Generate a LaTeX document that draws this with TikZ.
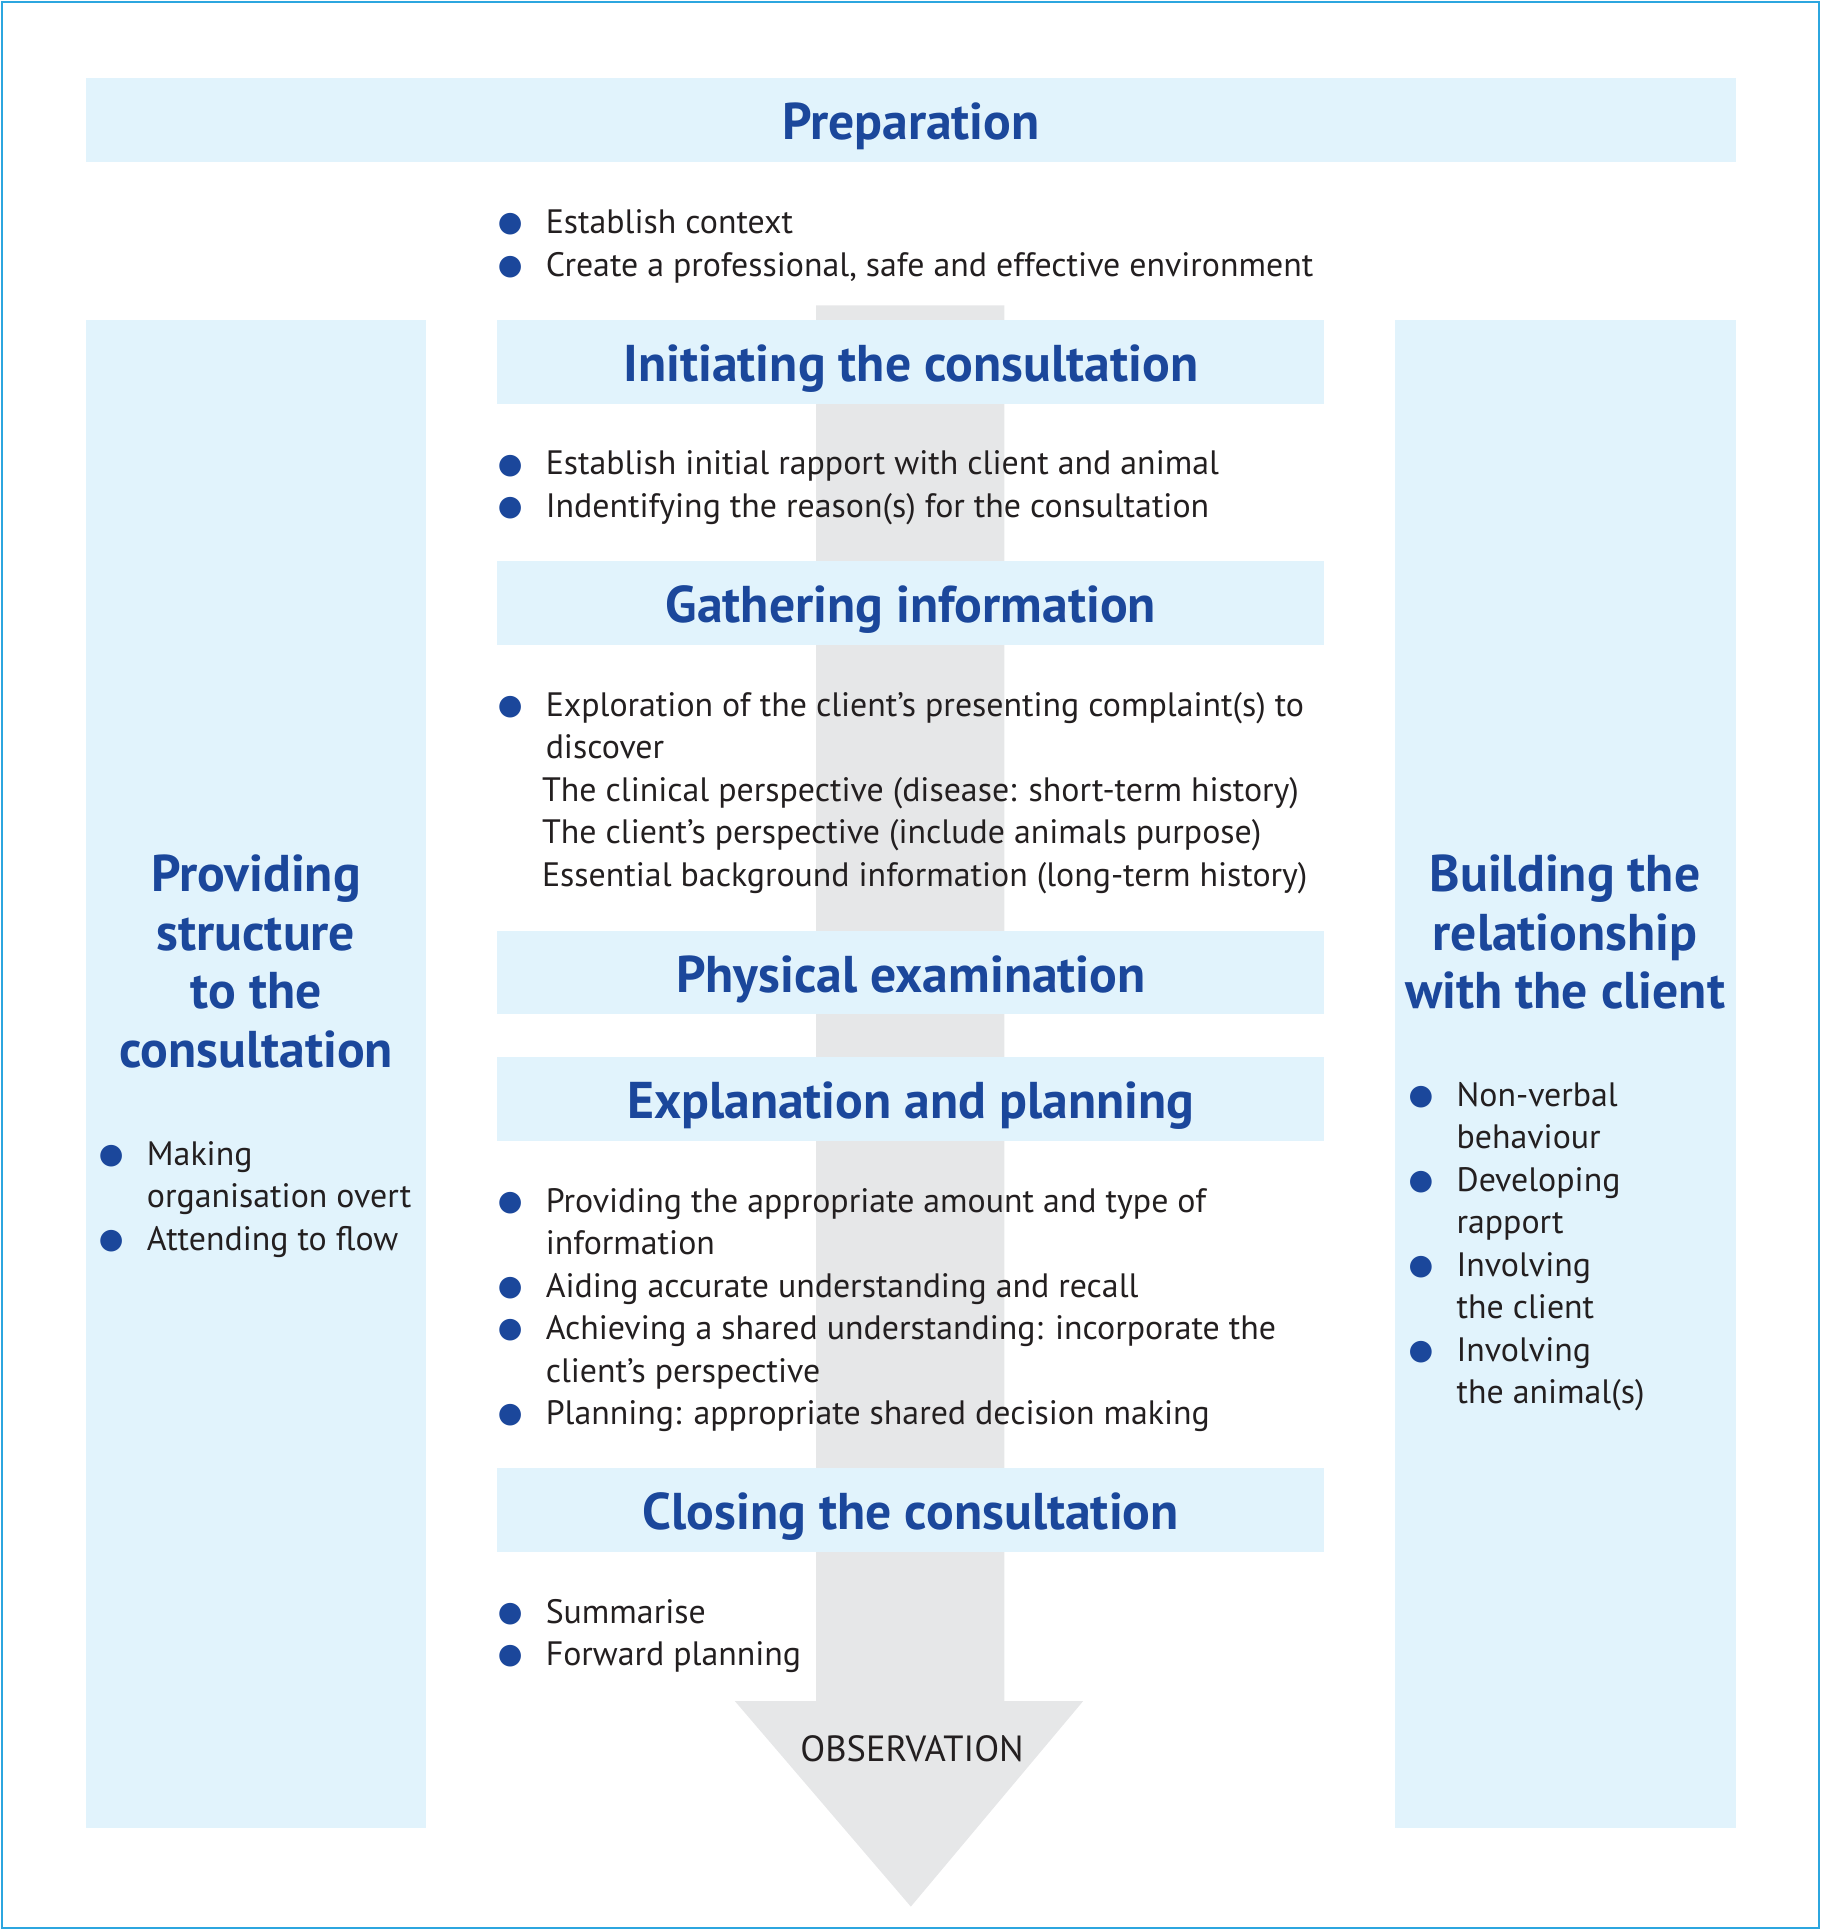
\documentclass[tikz,border=0pt]{standalone}
\usepackage{fontspec}
\setmainfont{PT Sans}
\newfontfamily\dotfont{DejaVu Sans}
\definecolor{paleblue}{HTML}{E1F3FC}
\definecolor{titleblue}{HTML}{1B479B}
\definecolor{arrowgray}{HTML}{E6E7E8}
\definecolor{framecyan}{HTML}{2CA6DF}
\definecolor{inkgray}{HTML}{231F20}
\newcommand{\bul}{\makebox[18.5pt][l]{\hspace*{-1pt}\raisebox{0.8pt}{\textcolor{titleblue}{\dotfont\fontsize{11.5}{11.5}\selectfont ●}}}}
\newcommand{\ind}{\hspace*{18.5pt}}

\begin{document}
\begin{tikzpicture}
[x=0.5pt,y=-0.5pt,%
  bar/.style={fill=paleblue,minimum width=336pt,minimum height=34pt,inner sep=0pt,
    text=titleblue,font=\bfseries\fontsize{21}{24}\selectfont,text height=16pt,text depth=0pt},%
  column/.style={fill=paleblue,minimum width=138pt,minimum height=612.5pt,inner sep=0pt},%
  items/.style={anchor=north west,inner sep=0pt,align=left,text=inkgray,
    font=\fontsize{13.75}{17.25}\selectfont},%
  coltitle/.style={anchor=north,inner sep=0pt,align=center,text=titleblue,
    font=\bfseries\fontsize{21}{23.75}\selectfont}]
\useasboundingbox (0,0) rectangle (1479,1568);
\draw[framecyan,line width=0.8pt] (1.4,1.4) rectangle (1477.6,1566.6);

% flow arrow behind the stages
\fill[arrowgray] (663,248) -- (816,248) -- (816,1382) -- (880,1382)
  -- (740,1549) -- (597,1382) -- (663,1382) -- cycle;
\node[inner sep=0pt,anchor=base,text=inkgray,font=\fontsize{14.8}{17}\selectfont]
  (obs) at (741,1431) {OBSERVATION};

% side columns
\node[column] (left) at (208,872.5) {};
\node[column,minimum width=138.5pt] (right) at (1271.5,872.5) {};
\node[coltitle] (lefttitle) at (208,690.75)
  {\strut Providing\\structure\\to the\\consultation};
\node[coltitle] (righttitle) at (1271.5,690.75)
  {\strut Building the\\relationship\\with the client};
\node[items] (leftlist) at (82,922.35)
  {\strut\bul Making\\\ind organisation overt\\\bul Attending to flow};
\node[items] (rightlist) at (1146,874.35)
  {\strut\bul Non-verbal\\\ind behaviour\\\bul Developing\\\ind rapport\\
   \bul Involving\\\ind the client\\\bul Involving\\\ind the animal(s)};

% stages
\node[bar,minimum width=670pt,minimum height=34.5pt] (prep) at (740,97.5) {Preparation};
\node[items] (preplist) at (406,165.35)
  {\strut\bul Establish context\\\bul Create a professional, safe and effective environment};
\node[bar] (init) at (740,294) {Initiating the consultation};
\node[items] (initlist) at (406,361.35)
  {\strut\bul Establish initial rapport with client and animal\\
   \bul Indentifying the reason(s) for the consultation};
\node[bar] (gather) at (740,490) {Gathering information};
\node[items] (gatherlist) at (406,557.35)
  {\strut\bul Exploration of the client’s presenting complaint(s) to\\
   \ind discover\\
   \hspace*{17pt}The clinical perspective (disease: short-term history)\\
   \hspace*{17pt}The client’s perspective (include animals purpose)\\
   \hspace*{17pt}Essential background information (long-term history)};
\node[bar] (phys) at (740,790) {Physical examination};
\node[bar] (expl) at (740,893) {Explanation and planning};
\node[items] (expllist) at (406,960.35)
  {\strut\bul Providing the appropriate amount and type of\\
   \ind information\\
   \bul Aiding accurate understanding and recall\\
   \bul Achieving a shared understanding: incorporate the\\
   \ind client’s perspective\\
   \bul Planning: appropriate shared decision making};
\node[bar] (close) at (740,1227) {Closing the consultation};
\node[items] (closelist) at (406,1294.35)
  {\strut\bul Summarise\\\bul Forward planning};
\end{tikzpicture}
\end{document}
